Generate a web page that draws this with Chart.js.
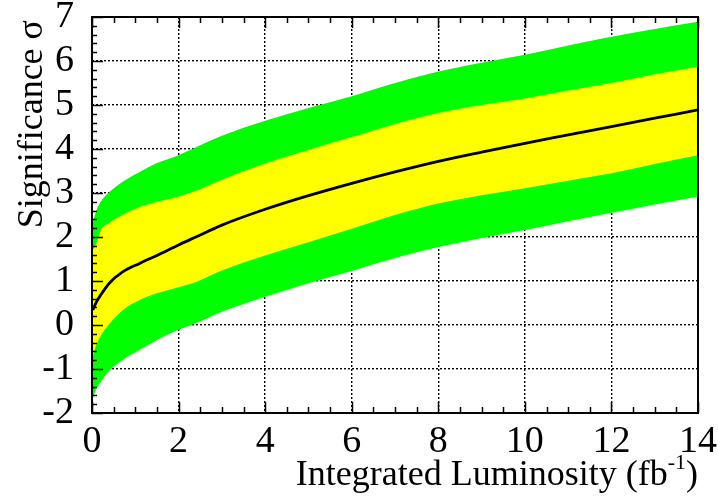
<!DOCTYPE html>
<html>
<head>
<meta charset="utf-8">
<script src="https://cdn.jsdelivr.net/npm/chart.js@4.4.1/dist/chart.umd.min.js"></script>
<style>
  html, body { margin: 0; padding: 0; background: #fff; }
  #wrap { width: 718px; height: 504px; }
</style>
</head>
<body>
<div id="wrap"><canvas id="chart" width="718" height="504"></canvas></div>
<script>
//Valores
const lumi      = [0.02, 0.1, 0.2, 0.4, 0.7, 1.1, 1.5, 2, 2.4, 3, 4, 5, 6, 7, 8, 9, 10, 11, 12, 13, 14];
const mediana   = [0.34, 0.52, 0.68, 0.95, 1.2, 1.4, 1.58, 1.82, 2.0, 2.27, 2.63, 2.94, 3.22, 3.48, 3.72, 3.93, 4.13, 4.32, 4.51, 4.7, 4.89];
const amarilloSup = [1.7, 1.85, 2.15, 2.32, 2.5, 2.68, 2.8, 2.92, 3.05, 3.3, 3.67, 3.98, 4.27, 4.57, 4.82, 5.0, 5.15, 5.33, 5.5, 5.7, 5.87];
const amarilloInf = [-0.7, -0.45, -0.25, 0.02, 0.33, 0.57, 0.72, 0.86, 0.98, 1.24, 1.58, 1.88, 2.19, 2.5, 2.76, 2.95, 3.11, 3.28, 3.45, 3.66, 3.86];
const verdeSup  = [2.32, 2.6, 2.8, 3.02, 3.25, 3.48, 3.68, 3.86, 4.04, 4.3, 4.64, 4.93, 5.2, 5.5, 5.76, 5.96, 6.14, 6.35, 6.55, 6.73, 6.89];
const verdeInf  = [-1.67, -1.45, -1.3, -1.04, -0.8, -0.57, -0.34, -0.11, 0.04, 0.3, 0.64, 0.95, 1.23, 1.52, 1.77, 1.98, 2.16, 2.36, 2.55, 2.74, 2.92];

const xTicks = [0, 2, 4, 6, 8, 10, 12, 14];
const yTicks = [-2, -1, 0, 1, 2, 3, 4, 5, 6, 7];

const FUENTE = "Liberation Serif, Times New Roman, serif";
const puntos = ys => lumi.map((x, i) => ({ x: x, y: ys[i] }));

//Marcas de los ejes hacia dentro, marco y títulos
const ejesRoot = {
  id: "ejesRoot",
  afterDraw(chart) {
    const c = chart.ctx, a = chart.chartArea;
    const sx = chart.scales.x, sy = chart.scales.y;
    c.save();
    c.strokeStyle = "#000";
    c.lineWidth = 1.5;
    c.beginPath();
    for (let v = 0; v <= 14.001; v += 0.5) {
      const px = Math.round(sx.getPixelForValue(v)) + 0.5;
      const len = Math.abs(v % 2) < 0.01 ? 11 : 6;
      c.moveTo(px, a.bottom); c.lineTo(px, a.bottom - len);
      c.moveTo(px, a.top); c.lineTo(px, a.top + len);
    }
    for (let v = -2; v <= 7.001; v += 0.2) {
      const py = Math.round(sy.getPixelForValue(v)) + 0.5;
      const len = Math.abs(v - Math.round(v)) < 0.01 ? 11 : 5;
      c.moveTo(a.left, py); c.lineTo(a.left + len, py);
    }
    c.stroke();
    c.lineWidth = 2;
    c.strokeRect(a.left, a.top, a.right - a.left, a.bottom - a.top);

    //Título del eje x con superíndice
    c.fillStyle = "#000";
    c.textBaseline = "alphabetic";
    const t1 = "Integrated Luminosity (fb", t2 = "-1", t3 = ")";
    c.font = "22px " + FUENTE;
    const w2 = c.measureText(t2).width;
    c.font = "36px " + FUENTE;
    const w1 = c.measureText(t1).width, w3 = c.measureText(t3).width;
    const x0 = 698 - (w1 + w2 + w3);
    c.fillText(t1, x0, 485);
    c.fillText(t3, x0 + w1 + w2, 485);
    c.font = "22px " + FUENTE;
    c.fillText(t2, x0 + w1, 469);

    //Título del eje y
    c.font = "36px " + FUENTE;
    c.translate(42, 20);
    c.rotate(-Math.PI / 2);
    c.textAlign = "right";
    c.fillText("Significance σ", 0, 0);
    c.restore();
  }
};

const ctx = document.getElementById("chart").getContext("2d");
const banda = { borderWidth: 0, borderColor: "rgba(0,0,0,0)", pointRadius: 0, cubicInterpolationMode: "monotone" };
const chart = new Chart(ctx, {
  type: "line",
  data: {
    datasets: [
      { label: "Mediana", data: puntos(mediana), borderColor: "#000", borderWidth: 2.8, pointRadius: 0,
        cubicInterpolationMode: "monotone", fill: false },
      { ...banda, label: "±1σ", data: puntos(amarilloSup), backgroundColor: "#ffff00", fill: { target: 2 } },
      { ...banda, label: "amarilloInf", data: puntos(amarilloInf), fill: false },
      { ...banda, label: "±2σ", data: puntos(verdeSup), backgroundColor: "#00ff00", fill: { target: 4 } },
      { ...banda, label: "verdeInf", data: puntos(verdeInf), fill: false },
    ],
  },
  options: {
    responsive: false,
    animation: false,
    events: [],
    layout: { padding: { top: 17, right: 20, left: 0, bottom: 0 } },
    plugins: { legend: { display: false }, tooltip: { enabled: false } },
    scales: {
      x: {
        type: "linear",
        min: 0,
        max: 14,
        z: 1,
        afterBuildTicks: s => { s.ticks = xTicks.map(v => ({ value: v })); },
        afterFit: s => { s.height = 91; s.paddingLeft = 0; s.paddingRight = 0; },
        ticks: { color: "#000", padding: 6, maxRotation: 0, autoSkip: false, font: { family: FUENTE, size: 38 } },
        grid: {
          color: ctx => (ctx.tick && (ctx.tick.value === 0 || ctx.tick.value === 14)) ? "rgba(0,0,0,0)" : "#000",
          lineWidth: 1.4, drawTicks: false,
        },
        border: { display: false, dash: [2, 2] },
      },
      y: {
        type: "linear",
        min: -2,
        max: 7,
        z: 1,
        afterBuildTicks: s => { s.ticks = yTicks.map(v => ({ value: v })); },
        afterFit: s => { s.width = 92; s.paddingTop = 0; s.paddingBottom = 0; },
        ticks: { color: "#000", padding: 18, autoSkip: false, font: { family: FUENTE, size: 38 } },
        grid: {
          color: ctx => (ctx.tick && (ctx.tick.value === -2 || ctx.tick.value === 7)) ? "rgba(0,0,0,0)" : "#000",
          lineWidth: 1.4, drawTicks: false,
        },
        border: { display: false, dash: [2, 2] },
      },
    },
  },
  plugins: [ejesRoot],
});
</script>
</body>
</html>
